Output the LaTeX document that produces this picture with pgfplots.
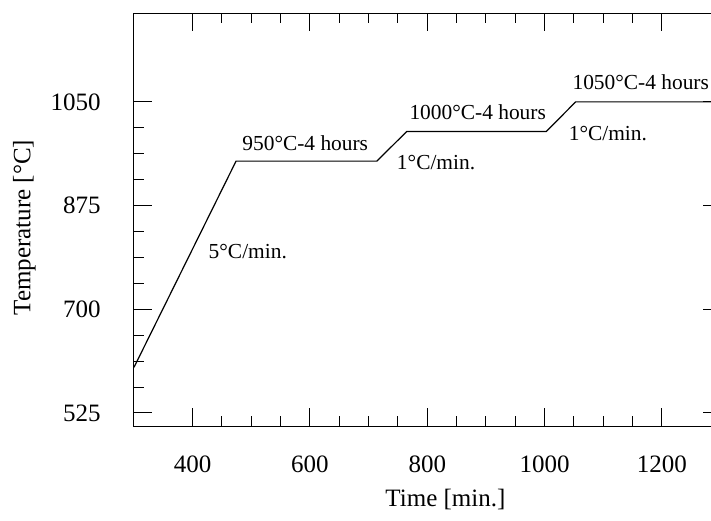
\documentclass[border=0pt]{standalone}
\usepackage{fontspec}
\setmainfont{Liberation Serif}
\usepackage{pgfplots}
\pgfplotsset{compat=1.18}

\begin{document}
\begin{tikzpicture}
\begin{axis}[
    scale only axis,
    width=293.25pt,
    height=206.5pt,
    xmin=300, xmax=1300,
    ymin=503, ymax=1200,
    xtick={400,600,800,1000,1200},
    ytick={525,700,875,1050},
    minor x tick num=3,
    minor y tick num=3,
    tick align=inside,
    major tick length=9pt,
    minor tick length=5pt,
    tick style={black, line width=0.5pt},
    axis line style={line width=0.5pt},
    /pgf/number format/assume math mode=true,
    /pgf/number format/1000 sep={},
    ticklabel style={font=\fontsize{12.5}{14}\selectfont},
    xticklabel style={anchor=center, yshift=-19pt},
    yticklabel style={anchor=east, inner sep=0pt, xshift=-16.5pt},
    xlabel={Time [min.]},
    ylabel={Temperature [°C]},
    label style={font=\fontsize{12.5}{14}\selectfont},
    xlabel style={at={(axis description cs:0.531,-0.179)}, anchor=center},
    ylabel style={at={(axis description cs:-0.187,0.48)}, anchor=center},
]
\addplot[black, line width=0.6pt] coordinates {
    (300, 602)
    (474, 950)
    (714, 950)
    (765, 1000)
    (1003, 1000)
    (1053, 1050)
    (1300, 1050)
};
\begin{scope}[font=\fontsize{10.7}{12}\selectfont]
\node at (axis cs:592,981) {950°C-4 hours};
\node at (axis cs:494,797) {5°C/min.};
\node at (axis cs:815,947) {1°C/min.};
\node at (axis cs:886,1033) {1000°C-4 hours};
\node at (axis cs:1108,997) {1°C/min.};
\node[inner sep=1pt] at (axis cs:1164,1084) {1050°C-4 hours};
\end{scope}
\end{axis}
\pgfresetboundingbox
\path[use as bounding box] ([shift={(-67pt,-47pt)}]current axis.south west) rectangle ([shift={(288.5pt,6.5pt)}]current axis.north west);
\end{tikzpicture}
\end{document}
